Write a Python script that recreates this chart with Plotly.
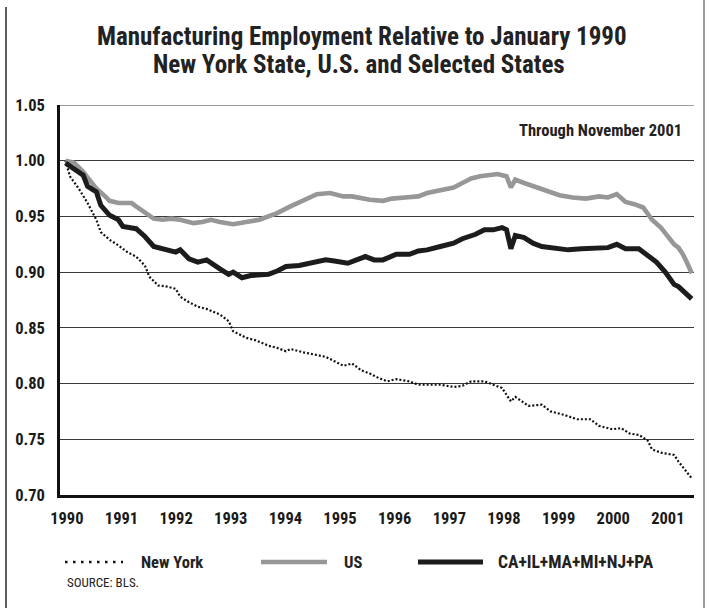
import plotly.graph_objects as go

# Monthly index: 0 = January 1990 ... 142 = November 2001
us_months = [0, 2, 4, 6, 7, 9, 10, 12, 15, 16, 18, 20, 22, 24, 26, 29, 31, 33, 35, 38,
             41, 44, 46, 48, 51, 54, 57, 60, 63, 65, 67, 69, 72, 74, 77, 80, 82, 85,
             88, 90, 92, 94, 96, 98, 99, 100, 101, 102, 104, 106, 109, 112, 115, 118,
             121, 123, 125, 127, 129, 131, 133, 135, 136, 138, 139, 140, 141, 142]
us_values = [1.000, 0.998, 0.990, 0.981, 0.975, 0.968, 0.964, 0.962, 0.962, 0.959,
             0.953, 0.948, 0.947, 0.948, 0.947, 0.944, 0.945, 0.947, 0.945, 0.943,
             0.945, 0.947, 0.950, 0.953, 0.959, 0.965, 0.970, 0.971, 0.968, 0.968,
             0.966, 0.965, 0.964, 0.966, 0.967, 0.968, 0.971, 0.973, 0.976, 0.980,
             0.984, 0.986, 0.987, 0.988, 0.987, 0.986, 0.976, 0.983, 0.980, 0.977,
             0.973, 0.969, 0.967, 0.966, 0.968, 0.967, 0.970, 0.963, 0.961, 0.958,
             0.947, 0.940, 0.935, 0.925, 0.922, 0.916, 0.908, 0.899]

states_months = [0, 2, 4, 5, 7, 8, 10, 12, 13, 16, 18, 20, 22, 24, 25, 26, 28, 30, 32,
                 35, 37, 38, 40, 42, 44, 46, 48, 50, 53, 56, 59, 61, 64, 66, 68, 70, 72,
                 75, 78, 80, 82, 85, 88, 90, 93, 95, 97, 99, 100, 101, 102, 104, 106,
                 108, 111, 114, 117, 120, 123, 125, 127, 130, 132, 134, 136, 138, 139,
                 141, 142]
states_values = [0.998, 0.992, 0.987, 0.977, 0.972, 0.960, 0.951, 0.947, 0.941, 0.939,
                 0.932, 0.923, 0.921, 0.920, 0.918, 0.920, 0.912, 0.909, 0.911, 0.903,
                 0.898, 0.900, 0.895, 0.897, 0.898, 0.898, 0.901, 0.905, 0.906, 0.908,
                 0.911, 0.910, 0.908, 0.911, 0.914, 0.911, 0.911, 0.916, 0.916, 0.919,
                 0.920, 0.923, 0.926, 0.930, 0.934, 0.938, 0.938, 0.940, 0.938, 0.921,
                 0.933, 0.931, 0.926, 0.923, 0.921, 0.920, 0.921, 0.922, 0.922, 0.925,
                 0.921, 0.921, 0.915, 0.909, 0.900, 0.889, 0.887, 0.880, 0.876]

ny_months = [0, 1, 3, 5, 7, 8, 10, 12, 14, 16, 18, 19, 21, 23, 25, 26, 28, 30, 32, 35,
             37, 38, 41, 43, 46, 48, 50, 51, 54, 57, 59, 61, 63, 65, 67, 69, 71, 73,
             75, 78, 80, 83, 85, 88, 90, 92, 95, 97, 99, 101, 102, 105, 108, 110, 113,
             116, 119, 121, 124, 126, 128, 130, 132, 133, 135, 138, 139, 141, 142]
ny_values = [1.000, 0.986, 0.975, 0.962, 0.947, 0.936, 0.929, 0.924, 0.918, 0.914,
             0.906, 0.896, 0.888, 0.887, 0.885, 0.878, 0.873, 0.869, 0.867, 0.862,
             0.856, 0.847, 0.841, 0.839, 0.834, 0.832, 0.829, 0.831, 0.828, 0.826,
             0.824, 0.820, 0.816, 0.818, 0.812, 0.809, 0.805, 0.802, 0.804, 0.802,
             0.799, 0.799, 0.799, 0.797, 0.798, 0.802, 0.802, 0.799, 0.796, 0.784,
             0.788, 0.780, 0.781, 0.775, 0.772, 0.768, 0.768, 0.762, 0.759, 0.760,
             0.755, 0.754, 0.749, 0.741, 0.738, 0.736, 0.730, 0.720, 0.715]

year_labels = ["1990", "1991", "1992", "1993", "1994", "1995", "1996",
               "1997", "1998", "1999", "2000", "2001"]

series_names = ["New York", "US", "CA+IL+MA+MI+NJ+PA"]

# Figure geometry (pixels)
W, H = 709, 608
L, R, T, B = 60, 15, 105, 113
PW, PH = W - L - R, H - T - B

FONT = "Liberation Sans Narrow, Roboto Condensed, Lato, sans-serif"
GREY = "#979797"
BLACK = "#1c1c1c"
GRID = "#3a3a3a"


def fx(p):
    """Figure pixel x -> paper coordinate."""
    return (p - L) / PW


def fy(p):
    """Figure pixel y -> paper coordinate."""
    return (H - B - p) / PH


fig = go.Figure()
fig.add_trace(go.Scatter(x=ny_months, y=ny_values, mode="lines", name=series_names[0],
                         line=dict(color="#111111", width=2.2, dash="2px,2px")))
fig.add_trace(go.Scatter(x=us_months, y=us_values, mode="lines", name=series_names[1],
                         line=dict(color=GREY, width=4.6)))
fig.add_trace(go.Scatter(x=states_months, y=states_values, mode="lines", name=series_names[2],
                         line=dict(color=BLACK, width=5)))

tick_pos = [0.3 + 12.39 * k for k in range(len(year_labels))]

fig.update_layout(
    width=W, height=H,
    margin=dict(l=L, r=R, t=T, b=B, pad=0),
    paper_bgcolor="white", plot_bgcolor="white",
    showlegend=False,
    font=dict(family=FONT, color="#1a1a1a"),
    xaxis=dict(range=[-1.25, 142.52], tickvals=tick_pos, ticktext=year_labels,
               showgrid=False, zeroline=False, showline=True, linecolor="#111111",
               linewidth=2.5, ticks="", ticklabelstandoff=6,
               tickfont=dict(family=FONT, size=16.5, weight="bold", color="#1a1a1a")),
    yaxis=dict(range=[0.70, 1.05], dtick=0.05, tick0=0.70, tickformat=".2f",
               showgrid=True, gridcolor=GRID, gridwidth=1.2, zeroline=False,
               showline=True, linecolor="#111111", linewidth=2.5, ticks="",
               ticklabelstandoff=9,
               tickfont=dict(family=FONT, size=16.5, weight="bold", color="#1a1a1a")),
)

annotations = [
    dict(text="Manufacturing Employment Relative to January 1990", x=fx(361.5), y=fy(36.5),
         font=dict(size=25, weight="bold", color="#222222"), xanchor="center"),
    dict(text="New York State, U.S. and Selected States", x=fx(358.5), y=fy(65),
         font=dict(size=25, weight="bold", color="#222222"), xanchor="center"),
    dict(text="Through November 2001", x=fx(684), y=fy(130),
         font=dict(size=16.5, weight="bold", color="#222222"), xanchor="right"),
    dict(text=series_names[0], x=fx(139), y=fy(562),
         font=dict(size=16.5, weight="bold", color="#222222"), xanchor="left"),
    dict(text=series_names[1], x=fx(342), y=fy(562),
         font=dict(size=16.5, weight="bold", color="#222222"), xanchor="left"),
    dict(text=series_names[2], x=fx(496), y=fy(562),
         font=dict(size=17.5, weight="bold", color="#222222"), xanchor="left"),
    dict(text="SOURCE: BLS.", x=fx(65), y=fy(582),
         font=dict(size=13, color="#222222"), xanchor="left"),
]
for a in annotations:
    a.update(xref="paper", yref="paper", yanchor="middle", showarrow=False)
    a["font"]["family"] = FONT
fig.update_layout(annotations=annotations)

shapes = [
    # top gridline at the upper edge of the value range
    dict(type="line", xref="paper", yref="y", x0=0, x1=1, y0=1.05, y1=1.05,
         line=dict(color=GRID, width=1.2)),
    # legend keys
    dict(type="line", x0=fx(65), x1=fx(123), y0=fy(562), y1=fy(562),
         line=dict(color="#111111", width=2.5, dash="2.5px,5.5px")),
    dict(type="line", x0=fx(261), x1=fx(327), y0=fy(562), y1=fy(562),
         line=dict(color=GREY, width=4.6)),
    dict(type="line", x0=fx(418), x1=fx(483), y0=fy(562), y1=fy(562),
         line=dict(color=BLACK, width=5)),
    # outer frame edges
    dict(type="line", x0=fx(6), x1=fx(6), y0=fy(7), y1=fy(H),
         line=dict(color="#2a2a2a", width=1.5)),
    dict(type="line", x0=fx(704), x1=fx(704), y0=fy(0), y1=fy(H),
         line=dict(color="#777777", width=1.5)),
]
for s in shapes:
    s.setdefault("xref", "paper")
    s.setdefault("yref", "paper")
    s["layer"] = "above"
fig.update_layout(shapes=shapes)

fig.write_html("out.html")
